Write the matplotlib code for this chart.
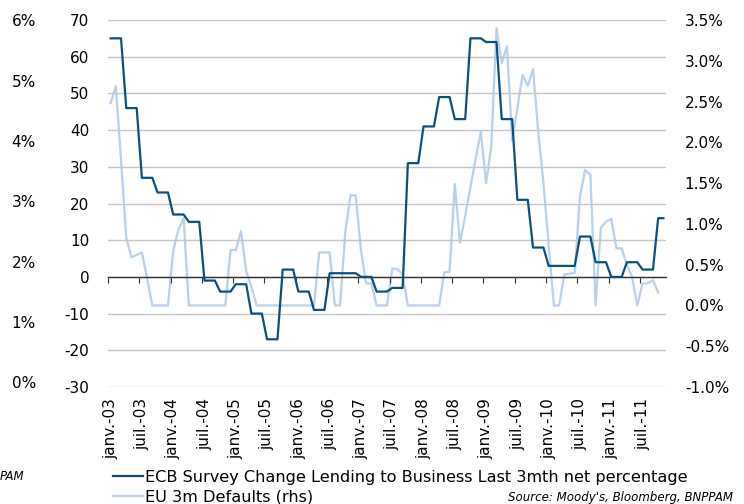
import numpy as np
import matplotlib.pyplot as plt

# monthly data, janv.-03 .. nov.-11
ecb_lending = [
    65, 65, 65, 46, 46, 46, 27, 27, 27, 23, 23, 23,
    17, 17, 17, 15, 15, 15, -1, -1, -1, -4, -4, -4,
    -2, -2, -2, -10, -10, -10, -17, -17, -17, 2, 2, 2,
    -4, -4, -4, -9, -9, -9, 1, 1, 1, 1, 1, 1,
    0, 0, 0, -4, -4, -4, -3, -3, -3, 31, 31, 31,
    41, 41, 41, 49, 49, 49, 43, 43, 43, 65, 65, 65,
    64, 64, 64, 43, 43, 43, 21, 21, 21, 8, 8, 8,
    3, 3, 3, 3, 3, 3, 11, 11, 11, 4, 4, 4,
    0, 0, 0, 4, 4, 4, 2, 2, 2, 16, 16,
]
eu_defaults = [
    2.48, 2.69, 1.78, 0.83, 0.59, 0.62, 0.65, 0.33, 0, 0, 0, 0,
    0.67, 0.93, 1.07, 0, 0, 0, 0, 0, 0, 0, 0, 0.68,
    0.68, 0.91, 0.42, 0.23, 0, 0, 0, 0, 0, 0, 0, 0,
    0, 0, 0, 0, 0.65, 0.65, 0.65, 0, 0, 0.90, 1.35, 1.35,
    0.68, 0.27, 0.27, 0, 0, 0, 0.45, 0.45, 0.38, 0, 0, 0,
    0, 0, 0, 0, 0.41, 0.41, 1.49, 0.77, 1.10, 1.45, 1.80, 2.13,
    1.50, 1.95, 3.40, 2.97, 3.18, 2.02, 2.42, 2.83, 2.69, 2.90, 2.13, 1.50,
    0.75, 0, 0, 0.38, 0.39, 0.40, 1.34, 1.66, 1.60, 0, 0.95, 1.03,
    1.06, 0.70, 0.70, 0.50, 0.35, 0, 0.27, 0.27, 0.31, 0.16, np.nan,
]
tick_labels = ["janv.-03", "juil.-03", "janv.-04", "juil.-04", "janv.-05", "juil.-05",
               "janv.-06", "juil.-06", "janv.-07", "juil.-07", "janv.-08", "juil.-08",
               "janv.-09", "juil.-09", "janv.-10", "juil.-10", "janv.-11", "juil.-11"]
left_pct_ticks = [0, 1, 2, 3, 4, 5, 6]

DARK = "#0b4f7f"
LIGHT = "#b9d1ea"
FS = 11

plt.rcParams["font.family"] = "DejaVu Sans"
plt.rcParams["axes.unicode_minus"] = False

fig = plt.figure(figsize=(7.44, 5.04), dpi=100)
pos = [108 / 744, 1 - 387 / 504, 558 / 744, 367 / 504]
ax = fig.add_axes(pos)
x = np.arange(len(ecb_lending))

# outer left percentage scale (no lines)
ax0 = fig.add_axes(pos, sharex=ax)
ax0.set_ylim(-0.078, 6.008)
ax0.set_yticks(left_pct_ticks)
ax0.set_yticklabels([f"{v}%" for v in left_pct_ticks])
ax0.tick_params(axis="y", length=0, pad=52, labelsize=FS)
ax0.tick_params(axis="x", bottom=False, labelbottom=False)
ax0.patch.set_visible(False)
for s in ax0.spines.values():
    s.set_visible(False)

ax.set_xlim(-0.5, len(ecb_lending) - 0.5)
ax.set_ylim(-30, 70)
ax.set_yticks(range(-30, 71, 10))
ax.grid(axis="y", color="#c6c6c6", linewidth=1.0)
ax.set_axisbelow(True)
ax.tick_params(axis="y", length=0, pad=13.5, labelsize=FS)
for s in ["left", "right", "top"]:
    ax.spines[s].set_visible(False)
ax.spines["bottom"].set_position(("data", 0))
ax.spines["bottom"].set_color("#333333")
ax.spines["bottom"].set_linewidth(1.0)
ax.set_xticks(np.arange(-0.5, 102, 6))
ax.tick_params(axis="x", direction="out", length=4, color="#333333", labelbottom=False)

sec = ax.secondary_xaxis("bottom")
sec.set_xticks(np.arange(0, 103, 6))
sec.set_xticklabels(tick_labels, rotation=90, fontsize=FS)
sec.tick_params(length=0, pad=8)
sec.spines["bottom"].set_visible(False)

l1, = ax.plot(x, ecb_lending, color=DARK, linewidth=1.6, zorder=4,
              label="ECB Survey Change Lending to Business Last 3mth net percentage")

ax2 = ax.twinx()
ax2.set_ylim(-1.0, 3.5)
ax2.set_yticks(np.arange(-1.0, 3.51, 0.5))
ax2.set_yticklabels([f"{v:.1f}%" for v in np.arange(-1.0, 3.51, 0.5)])
ax2.tick_params(axis="y", length=0, pad=13.5, labelsize=FS)
for s in ax2.spines.values():
    s.set_visible(False)
l2, = ax2.plot(x, eu_defaults, color=LIGHT, linewidth=1.6, zorder=3,
               label="EU 3m Defaults (rhs)")
ax.set_zorder(ax2.get_zorder() + 1)
ax.patch.set_visible(False)

fig.legend(handles=[l1, l2], loc="upper left", bbox_to_anchor=(113 / 744, 1 - 470 / 504),
           frameon=False, fontsize=11.6, handlelength=1.85, handletextpad=0.15,
           borderpad=0, borderaxespad=0, labelspacing=0.3)

fig.text(733 / 744, 1 - 498 / 504, "Source: Moody's, Bloomberg, BNPPAM",
         ha="right", va="center", style="italic", fontsize=8.5)
# tail of a source note cut by the left edge in the original
fig.text(0, 1 - 476 / 504, "PAM", ha="left", va="center", style="italic", fontsize=8.5)

fig.savefig("out.png", dpi=100)
